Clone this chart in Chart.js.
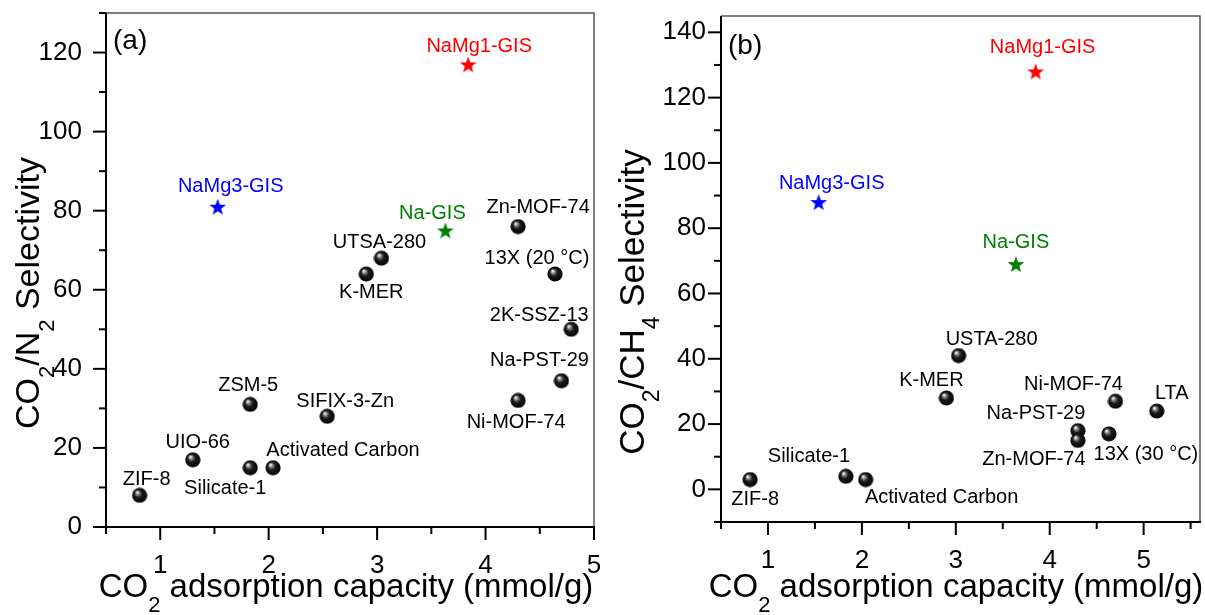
<!DOCTYPE html>
<html>
<head>
<meta charset="utf-8">
<script src="https://cdn.jsdelivr.net/npm/chart.js@4.4.0/dist/chart.umd.min.js"></script>
<style>
  body { margin: 0; background: #fff; }
  #wrapA { position: absolute; left: 0; top: 0; width: 620px; height: 615px; }
  #wrapB { position: absolute; left: 600px; top: 0; width: 605px; height: 615px; }
</style>
</head>
<body>
<div id="wrapA"><canvas id="chartA" width="620" height="615"></canvas></div>
<div id="wrapB"><canvas id="chartB" width="605" height="615"></canvas></div>
<script>
// ---- panel (a): CO2/N2 selectivity ----
const namesA = ['ZIF-8', 'UIO-66', 'ZSM-5', 'Silicate-1', 'Activated Carbon', 'SIFIX-3-Zn', 'K-MER', 'UTSA-280',
  'Zn-MOF-74', '13X (20 °C)', '2K-SSZ-13', 'Na-PST-29', 'Ni-MOF-74'];
const capA = [0.81, 1.30, 1.83, 1.83, 2.04, 2.54, 2.90, 3.04, 4.30, 4.64, 4.79, 4.70, 4.30];
const selA = [8, 17, 31, 15, 15, 28, 64, 68, 76, 64, 50, 37, 32];

// ---- panel (b): CO2/CH4 selectivity ----
const namesB = ['ZIF-8', 'Silicate-1', 'Activated Carbon', 'K-MER', 'USTA-280', 'Ni-MOF-74', 'Na-PST-29',
  'Zn-MOF-74', '13X (30 °C)', 'LTA'];
const capB = [0.81, 1.83, 2.04, 2.90, 3.03, 4.70, 4.30, 4.30, 4.63, 5.14];
const selB = [3, 4, 3, 28, 41, 27, 18, 15, 17, 24];

// ---- GIS samples (stars) ----
const gisNames = ['NaMg1-GIS', 'NaMg3-GIS', 'Na-GIS'];
const gisCapA = [3.84, 1.53, 3.63];
const gisSelA = [117, 81, 75];
const gisCapB = [3.85, 1.54, 3.64];
const gisSelB = [128, 88, 69];
const gisColors = ['#ff0000', '#0000ff', '#008000'];

// label offsets (px) from each marker
const offA = [[7,-16],[5,-17],[-2,-19],[-25,21],[70,-17],[18,-15],[5,19],[-2,-16],[20,-19],[-18,-15],[-32,-14],[-22,-20],[-2,22]];
const offGisA = [[11,-18],[13,-20],[-13,-17]];
const offB = [[5,20],[-37,-20],[76,18],[-15,-17],[33,-16],[-42,-17],[-42,-17],[-44,19],[37,21],[15,-18]];
const offGisB = [[7,-24],[13,-19],[0,-22]];

const FONT = '"Liberation Sans", Arial, sans-serif';

function sphere() {
  const c = document.createElement('canvas');
  c.width = 16; c.height = 16;
  const g = c.getContext('2d');
  const grd = g.createRadialGradient(5.5, 5, 0.5, 8, 8, 8);
  grd.addColorStop(0, '#f4f4f4');
  grd.addColorStop(0.18, '#8a8a8a');
  grd.addColorStop(0.45, '#1c1c1c');
  grd.addColorStop(1, '#000');
  g.fillStyle = grd;
  g.beginPath(); g.arc(8, 8, 7.6, 0, Math.PI * 2); g.fill();
  return c;
}

function star(color) {
  const c = document.createElement('canvas');
  c.width = 18; c.height = 18;
  const g = c.getContext('2d');
  g.fillStyle = color;
  g.beginPath();
  for (let i = 0; i < 10; i++) {
    const r = i % 2 === 0 ? 8.8 : 3.6;
    const ang = -Math.PI / 2 + i * Math.PI / 5;
    const px = 9 + r * Math.cos(ang), py = 9.8 + r * Math.sin(ang);
    if (i === 0) g.moveTo(px, py); else g.lineTo(px, py);
  }
  g.closePath(); g.fill();
  return c;
}

const ball = sphere();
const stars = gisColors.map(star);

function drawParts(ctx, parts, cx, by, big) {
  const small = Math.round(big * 0.66);
  let w = 0;
  parts.forEach(p => { ctx.font = (p[1] ? small : big) + 'px ' + FONT; w += ctx.measureText(p[0]).width; });
  let x = cx - w / 2;
  ctx.textAlign = 'left';
  ctx.textBaseline = 'alphabetic';
  parts.forEach(p => {
    ctx.font = (p[1] ? small : big) + 'px ' + FONT;
    ctx.fillText(p[0], x, by + (p[1] ? big * 0.44 : 0));
    x += ctx.measureText(p[0]).width;
  });
}

const deco = {
  id: 'deco',
  afterDraw(chart, args, o) {
    const ctx = chart.ctx, a = chart.chartArea, xs = chart.scales.x, ys = chart.scales.y;
    ctx.save();
    ctx.lineCap = 'butt';
    // box
    ctx.strokeStyle = '#555'; ctx.lineWidth = 1.5;
    ctx.beginPath(); ctx.moveTo(a.left, a.top); ctx.lineTo(a.right, a.top); ctx.lineTo(a.right, a.bottom); ctx.stroke();
    ctx.strokeStyle = '#000'; ctx.lineWidth = 2;
    ctx.beginPath(); ctx.moveTo(a.left, a.top); ctx.lineTo(a.left, a.bottom + 1); ctx.moveTo(a.left - 1, a.bottom); ctx.lineTo(a.right + 1, a.bottom); ctx.stroke();
    // ticks
    ctx.lineWidth = 2;
    xs.ticks.forEach(t => {
      const px = xs.getPixelForValue(t.value);
      const len = Number.isInteger(t.value) ? 13 : 7;
      ctx.beginPath(); ctx.moveTo(px, a.bottom); ctx.lineTo(px, a.bottom + len); ctx.stroke();
    });
    ys.ticks.forEach(t => {
      const py = ys.getPixelForValue(t.value);
      const len = t.value % 20 === 0 ? 13 : 7;
      ctx.beginPath(); ctx.moveTo(a.left - len, py); ctx.lineTo(a.left, py); ctx.stroke();
    });
    // point labels
    ctx.font = '20px ' + FONT;
    ctx.textAlign = 'center';
    ctx.textBaseline = 'middle';
    chart.data.datasets.forEach((ds, i) => {
      const meta = chart.getDatasetMeta(i);
      meta.data.forEach((el, j) => {
        ctx.fillStyle = Array.isArray(ds.labelColor) ? ds.labelColor[j] : ds.labelColor;
        ctx.fillText(ds.names[j], el.x + ds.offsets[j][0], el.y + ds.offsets[j][1]);
      });
    });
    // panel letter
    ctx.fillStyle = '#000';
    ctx.font = '28px ' + FONT;
    ctx.textAlign = 'left';
    ctx.fillText(o.letter, a.left + 7, a.top + o.letterDy);
    // x title
    drawParts(ctx, [['CO', 0], ['2', 1], [' adsorption capacity (mmol/g)', 0]], o.xTitleX, 597, 33);
    // y title
    ctx.translate(o.yTitleX, o.yTitleY);
    ctx.rotate(-Math.PI / 2);
    drawParts(ctx, o.yParts, 0, 0, o.ySize);
    ctx.restore();
  }
};

function makeChart(id, names, cap, sel, offs, gisCap, gisSel, gisOffs, xMax, yMin, yMax, pad, yWidth, xHeight, yPad, deco0) {
  return new Chart(document.getElementById(id), {
    type: 'scatter',
    data: {
      datasets: [{
        data: cap.map((v, i) => ({ x: v, y: sel[i] })),
        pointStyle: ball,
        names: names,
        offsets: offs,
        labelColor: '#000'
      }, {
        data: gisCap.map((v, i) => ({ x: v, y: gisSel[i] })),
        pointStyle: stars,
        names: gisNames,
        offsets: gisOffs,
        labelColor: gisColors
      }]
    },
    options: {
      responsive: false,
      animation: false,
      layout: { padding: pad },
      plugins: { legend: { display: false }, tooltip: { enabled: false }, deco: deco0 },
      scales: {
        x: {
          type: 'linear', min: 0.5, max: xMax,
          grid: { display: false, drawTicks: false },
          border: { display: false },
          afterFit: s => { s.height = xHeight; s.paddingLeft = 0; s.paddingRight = 0; },
          ticks: {
            stepSize: 0.5, includeBounds: false, autoSkip: false, maxRotation: 0, padding: 23,
            color: '#000', font: { size: 26, family: FONT },
            callback: v => Number.isInteger(v) ? String(v) : ''
          }
        },
        y: {
          type: 'linear', min: yMin, max: yMax,
          grid: { display: false, drawTicks: false },
          border: { display: false },
          afterFit: s => { s.width = yWidth; s.paddingTop = 0; s.paddingBottom = 0; },
          ticks: {
            stepSize: 10, includeBounds: false, autoSkip: false, padding: yPad,
            color: '#000', font: { size: 26, family: FONT },
            callback: v => v % 20 === 0 ? String(v) : ''
          }
        }
      }
    },
    plugins: [deco]
  });
}

makeChart('chartA', namesA, capA, selA, offA, gisCapA, gisSelA, offGisA, 5, 0, 130,
  { left: 0, top: 13, right: 26, bottom: 0 }, 106, 88, 24,
  { letter: '(a)', letterDy: 28, xTitleX: 346, yTitleX: 39, yTitleY: 293, ySize: 34,
    yParts: [['CO', 0], ['2', 1], ['/N', 0], ['2', 1], [' Selectivity', 0]] });

makeChart('chartB', namesB, capB, selB, offB, gisCapB, gisSelB, offGisB, 5.6, -10, 145,
  { left: 0, top: 16, right: 3, bottom: 0 }, 121, 93, 15,
  { letter: '(b)', letterDy: 30, xTitleX: 356, yTitleX: 44, yTitleY: 302, ySize: 35,
    yParts: [['CO', 0], ['2', 1], ['/CH', 0], ['4', 1], [' Selectivity', 0]] });
</script>
</body>
</html>
